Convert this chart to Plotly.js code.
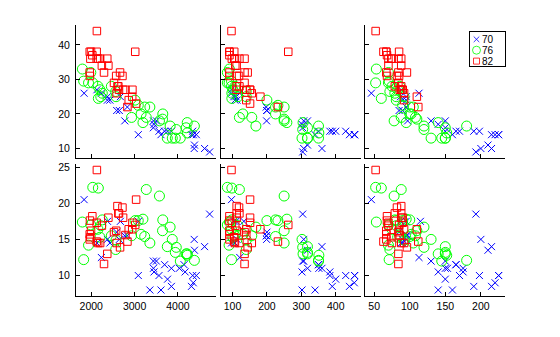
<!DOCTYPE html>
<html><head><meta charset="utf-8">
<script src="https://cdn.plot.ly/plotly-3.0.1.min.js"></script>
<style>html,body{margin:0;padding:0;background:#fff}#chart{width:560px;height:337px}</style>
</head><body><div id="chart"></div>
<script>
// Group labels (Model_Year)
const groups = ['70', '76', '82'];

// Model year 70
const weight70 = [3504,3693,3436,3433,3449,4341,4354,4312,4425,3850,3090,4142,4034,4166,3850,3563,3609,3353,3761,3086,2372,2833,2774,2587,2130,1835,2672,2430,2375,2234,2648,4615,4376,4382,4732];
const disp70 = [307,350,318,304,302,429,454,440,455,390,133,350,351,383,360,383,340,302,400,455,113,198,199,200,97,97,110,107,104,121,199,360,307,318,304];
const hp70 = [130,165,150,150,140,198,220,215,225,190,115,165,153,175,175,170,160,140,150,225,95,95,97,85,88,46,87,90,95,113,90,215,200,210,193];
const mpg70 = [18,15,18,16,17,15,14,14,14,15,null,null,null,null,null,15,14,null,15,14,24,22,18,21,27,26,25,24,25,26,21,10,10,11,9];
const acc70 = [12,11.5,11,12,10.5,10,9,8.5,10,8.5,17.5,11.5,11,10.5,11,10,8,8,9.5,10,15,15.5,15.5,16,14.5,20.5,17.5,14.5,17.5,12.5,15,14,15,13.5,18.5];

// Model year 76
const weight76 = [2464,2220,2572,2255,2202,4215,4190,3962,4215,3233,3353,3012,3085,2035,2164,1937,1795,3651,3574,3645,3193,1825,1990,2155,2565,3150,3940,3270,2930,3820,4380,4055,3870,3755];
const disp76 = [107,116,140,98,101,305,318,304,351,225,250,200,232,85,98,90,91,225,250,250,258,97,85,97,140,130,318,120,156,168,350,350,302,318];
const hp76 = [86,81,92,79,83,140,150,120,152,100,105,81,90,52,60,70,53,100,78,110,95,71,70,75,72,102,150,88,108,120,180,145,130,150];
const mpg76 = [28,25,25,26,27,17.5,16,15.5,14.5,22,22,24,22.5,29,24.5,29,33,20,18,18.5,17.5,29.5,32,28,26.5,20,13,19,19,16.5,16.5,13,13,13];
const acc76 = [15.5,16.9,14.9,17.7,15.3,13,13,13.9,12.8,15.4,14.5,17.6,17.6,22.2,22.1,14.2,17.4,17.7,21,16.2,17.8,12.2,17,16.4,13.6,15.7,13.2,21.9,15.5,16.7,12.1,12,15,14];

// Model year 82
const weight82 = [2605,2640,2395,2575,2525,2735,2865,3035,1980,2025,1970,2125,2125,2160,2205,2245,1965,1965,1995,2945,3015,2585,2835,2665,2370,2950,2790,2130,2295,2625,2720];
const disp82 = [112,112,112,112,135,151,140,151,105,91,91,105,98,120,107,108,91,91,91,181,262,156,232,144,135,151,140,97,135,120,119];
const hp82 = [88,88,88,85,84,90,92,null,74,68,68,63,70,88,75,70,67,67,67,110,85,92,112,96,84,90,86,52,84,79,82];
const mpg82 = [28,27,34,31,29,27,24,23,36,37,31,38,36,36,36,34,38,32,38,25,38,26,22,32,36,27,27,44,32,28,31];
const acc82 = [19.6,18.6,18,16.2,16,18,16.4,20.5,15.3,18.2,17.6,14.7,17.3,14.5,14.5,16.9,15,15.7,16.2,16.4,17,14.5,14.7,13.9,13,17.3,15.6,24.6,11.6,18.6,19.4];

// Variables
const xVars = ['Weight', 'Displacement', 'Horsepower'];
const yVars = ['MPG', 'Acceleration'];
const xTickStep = [1000, 100, 50];
const yTickStep = [10, 5];

const table = {
  '70': {Weight: weight70, Displacement: disp70, Horsepower: hp70, MPG: mpg70, Acceleration: acc70},
  '76': {Weight: weight76, Displacement: disp76, Horsepower: hp76, MPG: mpg76, Acceleration: acc76},
  '82': {Weight: weight82, Displacement: disp82, Horsepower: hp82, MPG: mpg82, Acceleration: acc82}
};

const styles = {
  '70': {symbol: 'x-thin-open', color: '#0000ff', size: 7},
  '76': {symbol: 'circle-open', color: '#00ff00', size: 10},
  '82': {symbol: 'square-open', color: '#ff0000', size: 7.5}
};

function paddedRange(v) {
  let lo = Infinity, hi = -Infinity;
  groups.forEach(g => table[g][v].forEach(a => { if (a !== null) { lo = Math.min(lo, a); hi = Math.max(hi, a); } }));
  const d = (hi - lo) * 0.05;
  return [lo - d, hi + d];
}

const W = 560, H = 337;
const colDom = [[76, 216], [221, 361], [365, 505]].map(d => [d[0] / W, d[1] / W]);
const rowDom = [[25, 158], [164, 296]].map(d => [(H - d[1]) / H, (H - d[0]) / H]);

const font = {family: 'Liberation Sans, Arial, Helvetica, sans-serif', size: 10.5, color: '#000'};
const traces = [];
const layout = {
  width: W, height: H,
  margin: {l: 0, r: 0, t: 0, b: 0},
  paper_bgcolor: '#fff', plot_bgcolor: 'rgba(0,0,0,0)',
  font: font,
  showlegend: true,
  legend: {
    x: 505 / W, y: (H - 31.7) / H, xanchor: 'right', yanchor: 'top',
    bordercolor: '#000', borderwidth: 1, bgcolor: '#fff',
    font: {family: font.family, size: 10, color: '#000'},
    itemwidth: 30, tracegroupgap: 0, traceorder: 'normal'
  }
};

yVars.forEach((yv, r) => {
  xVars.forEach((xv, c) => {
    const p = r * 3 + c + 1;
    const xa = 'x' + (p === 1 ? '' : p);
    const ya = 'y' + (p === 1 ? '' : p);
    groups.forEach(g => {
      const st = styles[g];
      traces.push({
        type: 'scatter', mode: 'markers',
        x: table[g][xv], y: table[g][yv],
        xaxis: xa, yaxis: ya,
        name: g, showlegend: p === 3,
        marker: {symbol: st.symbol, size: st.size, color: st.color, line: {color: st.color, width: 1}},
        hoverinfo: 'skip'
      });
    });
    const common = {
      showgrid: false, zeroline: false, showline: true, linecolor: '#000', linewidth: 1,
      ticks: 'inside', ticklen: 4, tickwidth: 1, tickcolor: '#000', mirror: false,
      tickfont: font
    };
    layout['xaxis' + (p === 1 ? '' : p)] = Object.assign({}, common, {
      domain: colDom[c], anchor: ya, range: paddedRange(xv),
      tick0: 0, dtick: xTickStep[c], showticklabels: r === 1
    });
    layout['yaxis' + (p === 1 ? '' : p)] = Object.assign({}, common, {
      domain: rowDom[r], anchor: xa, range: paddedRange(yv),
      tick0: 0, dtick: yTickStep[r], showticklabels: c === 0, ticklabelstandoff: 3
    });
  });
});

// Compact the legend to the MATLAB-style small box
function compactLegend(gd) {
  const leg = gd.querySelector('g.legend');
  if (!leg) return;
  leg.setAttribute('transform', 'translate(469.5,31.5)');
  const bg = leg.querySelector('rect.bg');
  if (bg) {
    bg.setAttribute('x', '0'); bg.setAttribute('y', '0');
    bg.setAttribute('width', '36'); bg.setAttribute('height', '34.5');
  }
  const sb = leg.querySelector('g.scrollbox');
  if (sb) sb.setAttribute('transform', 'translate(0,0)');
  leg.querySelectorAll('g.groups').forEach(g => g.setAttribute('transform', 'translate(0,0)'));
  leg.querySelectorAll('g.traces').forEach((t, i) => {
    t.setAttribute('transform', 'translate(0,' + (7.8 + 10.9 * i) + ')');
    const txt = t.querySelector('text.legendtext');
    if (txt) txt.setAttribute('x', '12.5');
    t.querySelectorAll('g.legendpoints path').forEach(p => p.setAttribute('transform', 'translate(7,0) scale(0.8)'));
    const tog = t.querySelector('rect.legendtoggle');
    if (tog) tog.setAttribute('width', '36');
  });
}

Plotly.newPlot('chart', traces, layout, {staticPlot: true, displayModeBar: false}).then(gd => compactLegend(gd));
</script>
</body></html>
